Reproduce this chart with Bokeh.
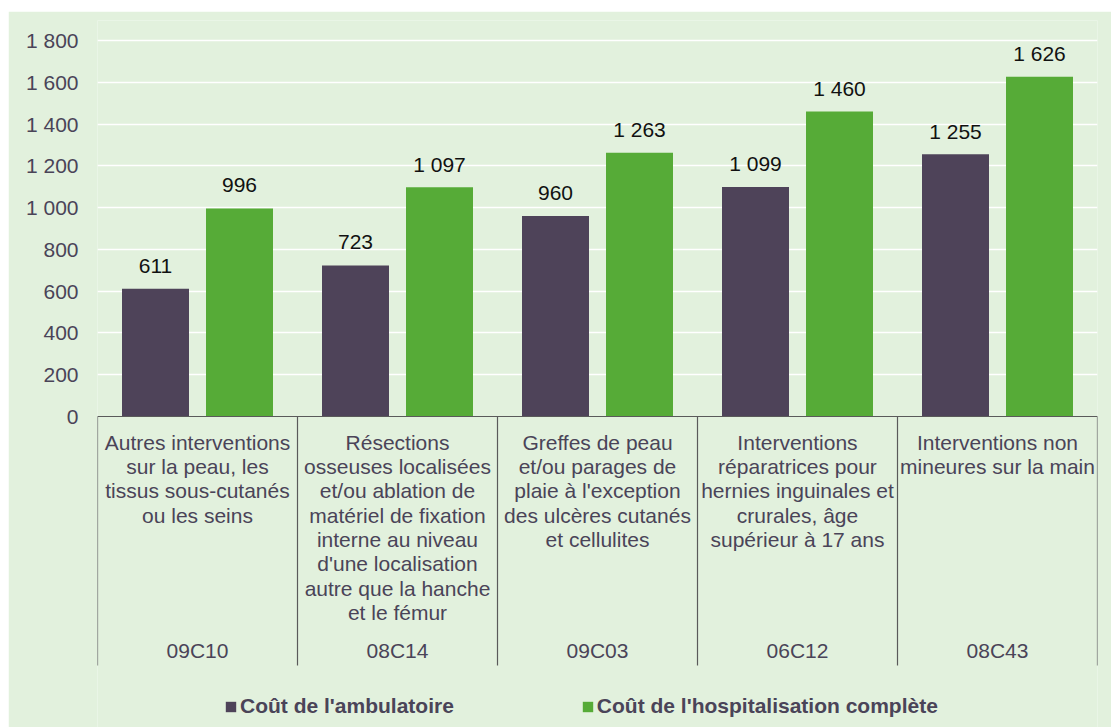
from bokeh.plotting import figure
from bokeh.layouts import column, row
from bokeh.models import Range1d, FixedTicker, Span, Legend, LegendItem, ColumnDataSource, Spacer
from bokeh.core.properties import value
from bokeh.embed import file_html
from bokeh.resources import INLINE

# ---------------- data ----------------
codes = ["09C10", "08C14", "09C03", "06C12", "08C43"]
descriptions = [
    "Autres interventions\nsur la peau, les\ntissus sous-cutanés\nou les seins",
    "Résections\nosseuses localisées\net/ou ablation de\nmatériel de fixation\ninterne au niveau\nd'une localisation\nautre que la hanche\net le fémur",
    "Greffes de peau\net/ou parages de\nplaie à l'exception\ndes ulcères cutanés\net cellulites",
    "Interventions\nréparatrices pour\nhernies inguinales et\ncrurales, âge\nsupérieur à 17 ans",
    "Interventions non\nmineures sur la main",
]
ambulatoire = [611, 723, 960, 1099, 1255]
hospitalisation = [996, 1097, 1263, 1460, 1626]
series_names = ["Coût de l'ambulatoire", "Coût de l'hospitalisation complète"]
y_ticks = [0, 200, 400, 600, 800, 1000, 1200, 1400, 1600, 1800]

# ---------------- style ----------------
BG = "#E2F1DD"
PURPLE = "#4E4359"
GREEN = "#56AB37"
TXT = "#4A4458"
FONT = "Liberation Sans"
FS = "21px"

def fmt(v):
    return f"{v:,}".replace(",", " ")

n = len(codes)
centers = [i + 0.5 for i in range(n)]
off = 0.21
bw = 0.335

px_per_unit = 376 / 1800.0
y_top = 396 / px_per_unit
y_bot = -311 / px_per_unit
sep_depth = -249 / px_per_unit

p = figure(width=1103, height=716, output_backend="svg", toolbar_location=None,
           x_range=Range1d(0, n), y_range=Range1d(y_bot, y_top),
           min_border_left=89, min_border_right=14, min_border_top=9, min_border_bottom=0)
p.background_fill_color = BG
p.border_fill_color = BG
p.outline_line_color = None
p.xaxis.visible = False
p.xgrid.visible = False
p.ygrid.ticker = FixedTicker(ticks=y_ticks[1:])
p.ygrid.grid_line_color = "white"
p.ygrid.grid_line_width = 1.3

ya = p.yaxis[0]
ya.ticker = FixedTicker(ticks=y_ticks)
ya.major_label_overrides = {t: fmt(t) for t in y_ticks}
ya.axis_line_color = None
ya.major_tick_line_color = None
ya.minor_tick_line_color = None
ya.major_label_standoff = 13
ya.major_label_text_font = FONT
ya.major_label_text_font_size = FS
ya.major_label_text_color = TXT

src = ColumnDataSource(dict(
    xa=[c - off for c in centers], xh=[c + off for c in centers],
    amb=ambulatoire, hosp=hospitalisation,
    la=[fmt(v) for v in ambulatoire], lh=[fmt(v) for v in hospitalisation],
    xc=centers, desc=descriptions, code=codes,
))

r1 = p.vbar(x="xa", top="amb", width=bw, bottom=0, source=src, fill_color=PURPLE, line_color=None)
r2 = p.vbar(x="xh", top="hosp", width=bw, bottom=0, source=src, fill_color=GREEN, line_color=None)

for xcol, ycol, lcol in (("xa", "amb", "la"), ("xh", "hosp", "lh")):
    p.text(x=xcol, y=ycol, text=lcol, source=src, text_align="center", text_baseline="middle",
           y_offset=-23, text_font=value(FONT), text_font_size=FS, text_color="#111111")

p.add_layout(Span(location=0, dimension="width", line_color="#5A5A5A", line_width=1.2))

bounds = list(range(n + 1))
p.segment(x0=bounds, y0=[0] * len(bounds), x1=bounds, y1=[sep_depth] * len(bounds),
          line_color="#5A5A5A", line_width=1.2)

p.text(x="xc", y=0, text="desc", source=src, text_align="center", text_baseline="top",
       y_offset=14, text_line_height=1.06, text_font=value(FONT), text_font_size=FS, text_color=TXT)
p.text(x="xc", y=0, text="code", source=src, text_align="center", text_baseline="middle",
       y_offset=234, text_font=value(FONT), text_font_size=FS, text_color=TXT)

legend = Legend(items=[LegendItem(label=series_names[0], renderers=[r1]),
                       LegendItem(label=series_names[1], renderers=[r2])],
                orientation="horizontal", location=(127, 9), padding=0, margin=0,
                spacing=127, glyph_width=13, glyph_height=13, label_standoff=3,
                background_fill_alpha=0, border_line_alpha=0,
                label_text_font=FONT, label_text_font_size=FS, label_text_font_style="bold",
                label_text_color=TXT)
p.add_layout(legend)

layout = column(Spacer(height=11), row(Spacer(width=8), p))
open("out.html", "w").write(file_html(layout, INLINE))
